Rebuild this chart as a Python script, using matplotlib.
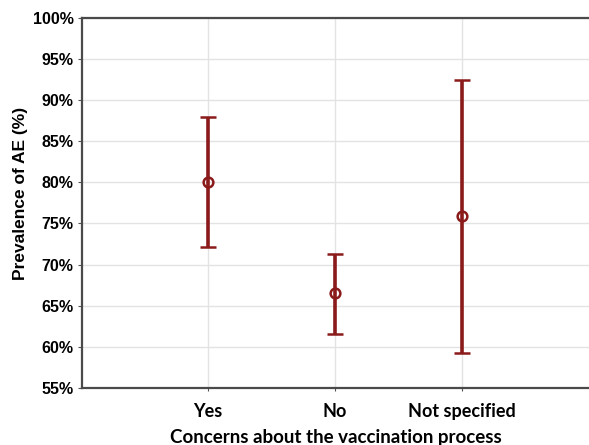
import matplotlib
matplotlib.use('Agg')
import matplotlib.pyplot as plt
from matplotlib.ticker import PercentFormatter

# данные
categories = ['Yes', 'No', 'Not specified']
prevalence = [80.0, 66.5, 75.9]
ci_low = [72.1, 61.6, 59.2]
ci_high = [88.0, 71.3, 92.4]

red = '#8b1a1a'
x = list(range(1, len(categories) + 1))
err_low = [p - lo for p, lo in zip(prevalence, ci_low)]
err_high = [hi - p for p, hi in zip(prevalence, ci_high)]

fig = plt.figure(figsize=(5.89, 4.45), dpi=100)
ax = fig.add_axes([0.139, 0.128, 0.861, 0.832])

ax.errorbar(x, prevalence, yerr=[err_low, err_high], fmt='o', color=red,
            ecolor=red, elinewidth=2.6, capsize=5.5, capthick=2.6,
            markersize=7, markerfacecolor='none', markeredgewidth=1.8, zorder=3)

ax.set_xlim(0.008, 4)
ax.set_ylim(55, 100)
ax.set_xticks(x)
ax.set_xticklabels(categories, family=['Lato', 'DejaVu Sans'], fontweight='bold', fontsize=13)
ax.set_yticks(range(55, 101, 5))
ax.yaxis.set_major_formatter(PercentFormatter(decimals=0))
for lbl in ax.get_yticklabels():
    lbl.set_family(['Liberation Sans', 'DejaVu Sans'])
    lbl.set_fontweight('bold')
    lbl.set_fontsize(11.5)

ax.grid(True, color='#e3e3e3', linewidth=1.0)
ax.set_axisbelow(True)
ax.spines['right'].set_visible(False)
for s in ['left', 'top', 'bottom']:
    ax.spines[s].set_color('#4a4a4a')
    ax.spines[s].set_linewidth(1.6)
ax.tick_params(axis='x', length=2, color='#555555', pad=9)
ax.tick_params(axis='y', length=3, color='#555555', pad=3)

ax.set_ylabel('Prevalence of AE (%)', family=['Liberation Sans', 'DejaVu Sans'],
              fontweight='bold', fontsize=12.5, labelpad=3)
ax.yaxis.label.set_y(0.526)
ax.set_xlabel('Concerns about the vaccination process', family=['Lato', 'DejaVu Sans'],
              fontweight='bold', fontsize=13.5, labelpad=6)

fig.savefig('out.png', dpi=100)
